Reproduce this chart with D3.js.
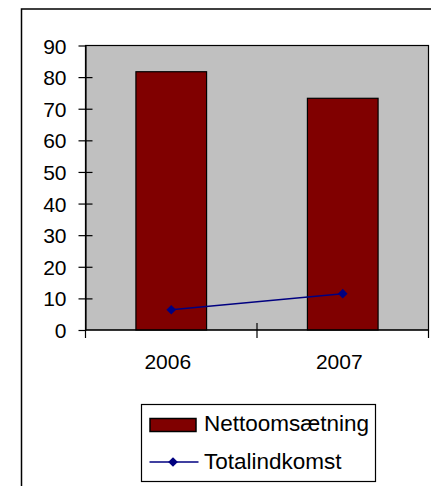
<!DOCTYPE html>
<html>
<head>
<meta charset="utf-8">
<script src="https://cdn.jsdelivr.net/npm/d3@7"></script>
<style>
  body { margin: 0; background: #fff; }
  text { font-family: "Liberation Sans", Arial, sans-serif; fill: #000; }
</style>
</head>
<body>
<div id="chart-area"></div>
<script>
// chart data
let years = ["2006", "2007"];
let nettoomsaetning = [81.7, 73.3];
let totalindkomst = [6.4, 11.5];
let yTicks = [0, 10, 20, 30, 40, 50, 60, 70, 80, 90];
let seriesNames = ["Nettoomsætning", "Totalindkomst"];

let W = 431, H = 486;
let plot = {left: 85.5, right: 428.5, top: 45.5, bottom: 330};

let svg = d3.select("#chart-area").append("svg")
	.attr("width", W)
	.attr("height", H);

// outer frame (runs off the right and bottom of the picture)
svg.append("rect")
	.attr("x", 21.5).attr("y", 9)
	.attr("width", 600).attr("height", 600)
	.style("fill", "#fff")
	.style("stroke", "#000")
	.style("stroke-width", 1.5);

// scales
let x = d3.scaleBand()
	.domain(years)
	.range([plot.left, plot.right])
	.paddingInner(0.588)
	.paddingOuter(0.294);

let y = d3.scaleLinear()
	.domain([0, 90])
	.range([plot.bottom, plot.top]);

// plot area
svg.append("rect")
	.attr("x", plot.left).attr("y", plot.top)
	.attr("width", plot.right - plot.left)
	.attr("height", plot.bottom - plot.top)
	.style("fill", "#c0c0c0")
	.style("stroke", "#000")
	.style("stroke-width", 1.2);

// bars
svg.selectAll(".bar")
	.data(nettoomsaetning)
	.enter()
	.append("rect")
	.classed("bar", true)
	.attr("x", (d, i) => x(years[i]))
	.attr("y", d => y(d))
	.attr("width", x.bandwidth())
	.attr("height", d => y(0) - y(d))
	.style("fill", "#800000")
	.style("stroke", "#000")
	.style("stroke-width", 1.2);

// y axis
let yAxis = d3.axisLeft(y)
	.tickValues(yTicks)
	.tickSizeInner(7)
	.tickSizeOuter(0)
	.tickPadding(12);
let yAxisGroup = svg.append("g")
	.attr("transform", "translate(" + plot.left + ",0)")
	.call(yAxis);
yAxisGroup.select(".domain").style("stroke", "#000").style("stroke-width", 1.2);
yAxisGroup.selectAll(".tick line").style("stroke", "#000").style("stroke-width", 1.2);
// ticks cross the axis into the plot
yAxisGroup.selectAll(".tick").filter(d => d > 0 && d < 90)
	.append("line")
	.attr("x1", 0).attr("x2", 7)
	.style("stroke", "#000").style("stroke-width", 1.2);
yAxisGroup.selectAll(".tick text")
	.style("font-size", "21px")
	.style("font-family", "'Liberation Sans', Arial, sans-serif")
	.attr("dy", "0.36em");

// x axis: ticks between categories
let bounds = [plot.left, (plot.left + plot.right) / 2, plot.right];
let xAxisGroup = svg.append("g");
xAxisGroup.append("line")
	.attr("x1", plot.left).attr("x2", plot.right)
	.attr("y1", plot.bottom).attr("y2", plot.bottom)
	.style("stroke", "#000").style("stroke-width", 1.2);
xAxisGroup.selectAll(".xtick")
	.data(bounds)
	.enter()
	.append("line")
	.classed("xtick", true)
	.attr("x1", d => d).attr("x2", d => d)
	.attr("y1", (d, i) => i == 1 ? plot.bottom - 7 : plot.bottom)
	.attr("y2", plot.bottom + 8)
	.style("stroke", "#000").style("stroke-width", 1.2);
xAxisGroup.selectAll(".xlabel")
	.data(years)
	.enter()
	.append("text")
	.classed("xlabel", true)
	.attr("x", d => x(d) + x.bandwidth() / 2 - 3.5)
	.attr("y", 369)
	.attr("text-anchor", "middle")
	.style("font-size", "21px")
	.text(d => d);

// line series
let line = d3.line()
	.x((d, i) => x(years[i]) + x.bandwidth() / 2)
	.y(d => y(d));

svg.append("path")
	.datum(totalindkomst)
	.attr("d", line)
	.style("fill", "none")
	.style("stroke", "#000080")
	.style("stroke-width", 1.5);

let diamond = d3.symbol().type(d3.symbolDiamond2).size(60);
svg.selectAll(".marker")
	.data(totalindkomst)
	.enter()
	.append("path")
	.classed("marker", true)
	.attr("d", diamond)
	.attr("transform", (d, i) => "translate(" + (x(years[i]) + x.bandwidth() / 2) + "," + y(d) + ")")
	.style("fill", "#000080");

// legend
let legend = svg.append("g");
legend.append("rect")
	.attr("x", 141.5).attr("y", 404.5)
	.attr("width", 234).attr("height", 77)
	.style("fill", "#fff")
	.style("stroke", "#000")
	.style("stroke-width", 1.2);

legend.append("rect")
	.attr("x", 150).attr("y", 418.5)
	.attr("width", 46).attr("height", 13)
	.style("fill", "#800000")
	.style("stroke", "#000")
	.style("stroke-width", 1.5);

legend.append("line")
	.attr("x1", 149.5).attr("x2", 198.5)
	.attr("y1", 462).attr("y2", 462)
	.style("stroke", "#000080")
	.style("stroke-width", 1.5);
legend.append("path")
	.attr("d", diamond)
	.attr("transform", "translate(173,462)")
	.style("fill", "#000080");

legend.selectAll(".legend-label")
	.data(seriesNames)
	.enter()
	.append("text")
	.classed("legend-label", true)
	.attr("x", 204)
	.attr("y", (d, i) => 431 + i * 38)
	.style("font-size", "22.5px")
	.text(d => d);
</script>
</body>
</html>
